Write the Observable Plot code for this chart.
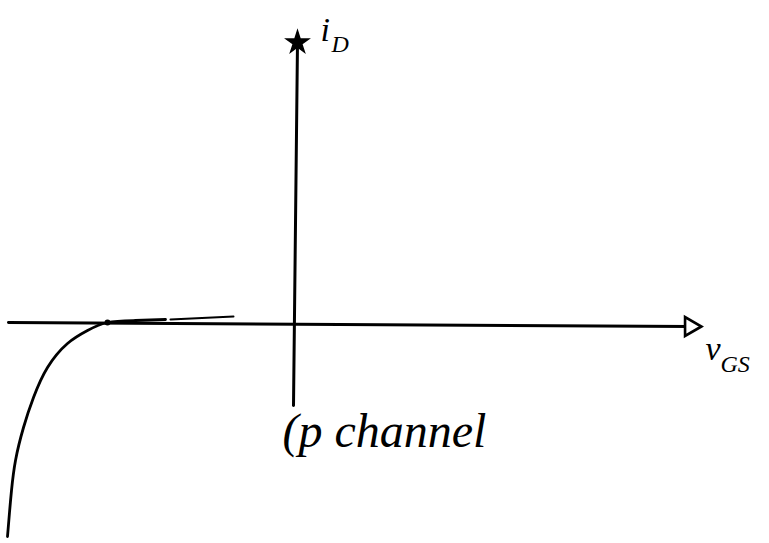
<!DOCTYPE html>
<html>
<head>
<meta charset="utf-8">
<script src="https://cdn.jsdelivr.net/npm/d3@7"></script>
<script src="https://cdn.jsdelivr.net/npm/@observablehq/plot@0.6"></script>
<style>
  html, body { margin: 0; padding: 0; background: #fff; }
</style>
</head>
<body>
<div id="chart"></div>
<script>
// Transfer characteristic sketch of a p-channel device: iD against vGS.
// Horizontal axis (vGS), slightly tilted as drawn by hand
const axisV = [-2.87, 3.95];
const axisVI = [0.0, -0.04];
// Vertical axis (iD)
const axisIV = [-0.02, 0.02];
const axisI = [-0.83, 2.80];
// The curve: drain current rising from negative values towards zero
const curveV = [-2.88, -2.86, -2.84, -2.80, -2.72, -2.62, -2.48, -2.28, -2.08, -1.88, -1.60, -1.30];
const curveI = [-2.14, -1.90, -1.68, -1.38, -1.05, -0.75, -0.45, -0.21, -0.08, 0.0, 0.02, 0.03];
// Short extra pen stroke over the axis near the curve
const strokeV = [-1.25, -0.62];
const strokeI = [0.03, 0.06];
// Axis labels and annotation
const labelMain = ["i", "v"];
const labelSub = ["D", "GS"];
const labelMainV = [0.25, 4.10];
const labelMainI = [2.92, -0.27];
const labelSubV = [0.36, 4.25];
const labelSubI = [2.78, -0.42];
const noteText = ["(p channel"];
const noteV = [-0.13];
const noteI = [-1.09];

const axisXData = axisV.map((v, k) => ({v, i: axisVI[k]}));
const axisYData = axisIV.map((v, k) => ({v, i: axisI[k]}));
const curveData = curveV.map((v, k) => ({v, i: curveI[k]}));
const strokeData = strokeV.map((v, k) => ({v, i: strokeI[k]}));
const mainData = labelMain.map((t, k) => ({t, v: labelMainV[k], i: labelMainI[k]}));
const subData = labelSub.map((t, k) => ({t, v: labelSubV[k], i: labelSubI[k]}));
const noteData = noteText.map((t, k) => ({t, v: noteV[k], i: noteI[k]}));

const ink = "#000";
const font = "Liberation Serif";

const chart = Plot.plot({
  width: 769,
  height: 543,
  margin: 0,
  x: {domain: [-2.95, 4.74], axis: null},
  y: {domain: [-2.21, 3.22], axis: null},
  style: {background: "#fff"},
  marks: [
    Plot.line(axisXData, {x: "v", y: "i", stroke: ink, strokeWidth: 3}),
    Plot.line(axisYData, {x: "v", y: "i", stroke: ink, strokeWidth: 3}),
    Plot.line(curveData, {x: "v", y: "i", stroke: ink, strokeWidth: 2.8, curve: "natural"}),
    Plot.line(strokeData, {x: "v", y: "i", stroke: ink, strokeWidth: 2}),
    // arrowheads at the axis ends
    Plot.dot([axisXData[1]], {x: "v", y: "i", symbol: "triangle", rotate: 90, r: 7, stroke: ink, strokeWidth: 2.6, fill: "#fff"}),
    Plot.dot([axisYData[1]], {x: "v", y: "i", symbol: "star", r: 7, fill: ink, stroke: ink}),
    // junction point where the curve meets the axis
    Plot.dot([curveData[9]], {x: "v", y: "i", r: 3, fill: ink}),
    Plot.text(mainData, {x: "v", y: "i", text: "t", fontSize: 34, fontStyle: "italic", fontFamily: font, fill: ink, textAnchor: "start"}),
    Plot.text(subData, {x: "v", y: "i", text: "t", fontSize: 24, fontStyle: "italic", fontFamily: font, fill: ink, textAnchor: "start"}),
    Plot.text(noteData, {x: "v", y: "i", text: "t", fontSize: 48, fontStyle: "italic", fontFamily: font, fill: ink, textAnchor: "start"})
  ]
});
document.getElementById("chart").appendChild(chart);
</script>
</body>
</html>
